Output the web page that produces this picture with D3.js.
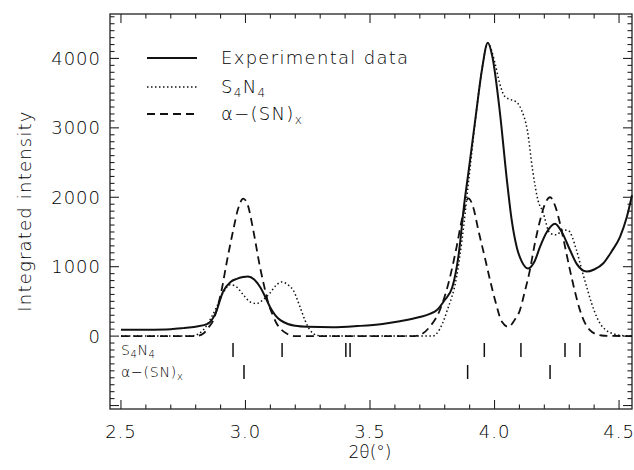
<!DOCTYPE html>
<html>
<head>
<meta charset="utf-8">
<script src="https://cdn.jsdelivr.net/npm/d3@7"></script>
<style>
  body { margin: 0; background: #fff; }
  text { font-family: "DejaVu Sans", sans-serif; font-weight: 200; fill: #000; }
</style>
</head>
<body>
<div id="chart"></div>
<script>
// 2theta positions and intensities
var expTheta = [2.50, 2.60, 2.70, 2.75, 2.80, 2.85, 2.88, 2.91, 2.94, 2.965, 2.99, 3.01, 3.035, 3.06, 3.08, 3.10, 3.12, 3.14, 3.17, 3.20, 3.25, 3.35, 3.45, 3.55, 3.62, 3.70, 3.74, 3.77, 3.80, 3.83, 3.855, 3.88, 3.895, 3.926, 3.95, 3.973, 3.99, 4.022, 4.049, 4.069, 4.09, 4.11, 4.135, 4.16, 4.183, 4.21, 4.243, 4.27, 4.303, 4.33, 4.37, 4.40, 4.437, 4.47, 4.504, 4.53, 4.552];
var expInt   = [90, 92, 100, 115, 135, 180, 330, 640, 780, 825, 850, 858, 815, 700, 560, 410, 300, 230, 175, 150, 135, 128, 145, 175, 215, 275, 320, 380, 520, 700, 1150, 1950, 2350, 3210, 3850, 4225, 4050, 3210, 2270, 1670, 1270, 1070, 975, 1070, 1290, 1500, 1620, 1500, 1240, 1040, 930, 960, 1050, 1220, 1430, 1700, 2030];

var s4n4Theta = [2.50, 2.78, 2.81, 2.83, 2.86, 2.884, 2.91, 2.938, 2.96, 2.99, 3.02, 3.045, 3.07, 3.098, 3.125, 3.145, 3.17, 3.192, 3.219, 3.24, 3.259, 3.29, 3.32, 3.75, 3.78, 3.81, 3.848, 3.87, 3.895, 3.926, 3.95, 3.973, 4.002, 4.02, 4.042, 4.07, 4.089, 4.109, 4.132, 4.153, 4.175, 4.193, 4.223, 4.249, 4.275, 4.296, 4.329, 4.35, 4.37, 4.39, 4.41, 4.43, 4.45, 4.48, 4.50, 4.552];
var s4n4Int   = [0, 0, 30, 86, 250, 420, 620, 740, 720, 600, 490, 470, 520, 620, 740, 780, 740, 660, 420, 220, 86, 10, 0, 0, 100, 370, 860, 1400, 2200, 3200, 3850, 4220, 3930, 3650, 3450, 3400, 3370, 3250, 2960, 2390, 1950, 1800, 1480, 1460, 1530, 1520, 1240, 960, 710, 470, 280, 150, 80, 30, 14, 0];

var snTheta = [2.50, 2.80, 2.831, 2.85, 2.871, 2.89, 2.904, 2.924, 2.951, 2.97, 2.991, 3.01, 3.031, 3.058, 3.075, 3.092, 3.11, 3.125, 3.145, 3.165, 3.20, 3.68, 3.70, 3.74, 3.781, 3.815, 3.848, 3.87, 3.895, 3.915, 3.935, 3.96, 3.982, 4.005, 4.029, 4.056, 4.08, 4.102, 4.12, 4.142, 4.16, 4.183, 4.20, 4.223, 4.243, 4.263, 4.283, 4.303, 4.323, 4.343, 4.363, 4.383, 4.41, 4.44, 4.552];
var snInt   = [0, 0, 38, 120, 230, 450, 660, 1050, 1530, 1830, 1980, 1880, 1530, 1000, 720, 470, 300, 182, 90, 38, 0, 0, 14, 134, 380, 760, 1290, 1700, 1985, 1850, 1526, 1150, 806, 480, 210, 134, 230, 374, 620, 950, 1300, 1670, 1880, 2000, 1880, 1623, 1290, 950, 640, 374, 190, 86, 25, 5, 0];

// reflection positions
var s4n4Refl = [2.95, 3.147, 3.403, 3.42, 3.959, 4.106, 4.283, 4.343];
var snRefl = [2.994, 3.892, 4.223];

var xMajor = [2.5, 3.0, 3.5, 4.0, 4.5];
var yMajor = [0, 1000, 2000, 3000, 4000];

(function () {
  var width = 634;
  var height = 470;

  var svg = d3.select("#chart")
    .append("svg")
    .attr("width", width)
    .attr("height", height);

  var x = d3.scaleLinear().domain([2.456, 4.552]).range([110, 632]);
  var y = d3.scaleLinear().domain([-1050, 4640]).range([409, 14]);

  var x0 = x.range()[0], x1 = x.range()[1];
  var y0 = y.range()[0], y1 = y.range()[1];

  // frame
  svg.append("rect")
    .attr("x", x0).attr("y", y1)
    .attr("width", x1 - x0).attr("height", y0 - y1)
    .attr("fill", "none").attr("stroke", "#222").attr("stroke-width", 1.3);

  var xMinor = d3.range(25, 46).map(function (d) { return d / 10; });
  var yMinor = d3.range(-10, 47).map(function (d) { return d * 100; });

  var ticks = svg.append("g").attr("stroke", "#222").attr("stroke-width", 1.1);

  xMinor.forEach(function (t) {
    var major = xMajor.indexOf(t) >= 0;
    var len = major ? 9 : 4.5;
    ticks.append("line").attr("x1", x(t)).attr("x2", x(t)).attr("y1", y0).attr("y2", y0 - len);
    ticks.append("line").attr("x1", x(t)).attr("x2", x(t)).attr("y1", y1).attr("y2", y1 + len);
  });
  yMinor.forEach(function (t) {
    var major = t % 1000 === 0;
    var len = major ? 9 : 4.5;
    ticks.append("line").attr("x1", x0).attr("x2", x0 + len).attr("y1", y(t)).attr("y2", y(t));
    ticks.append("line").attr("x1", x1).attr("x2", x1 - len).attr("y1", y(t)).attr("y2", y(t));
  });

  svg.selectAll(".xlab")
    .data(xMajor)
    .enter().append("text")
    .attr("class", "xlab")
    .attr("x", function (d) { return x(d); })
    .attr("y", 438)
    .attr("text-anchor", "middle")
    .style("font-size", "18px")
    .style("letter-spacing", "1px")
    .text(function (d) { return d.toFixed(1); });

  svg.selectAll(".ylab")
    .data(yMajor)
    .enter().append("text")
    .attr("class", "ylab")
    .attr("x", 101)
    .attr("y", function (d) { return y(d) + 6.5; })
    .attr("text-anchor", "end")
    .style("font-size", "18px")
    .style("letter-spacing", "1px")
    .text(function (d) { return d; });

  svg.append("text")
    .attr("x", 370).attr("y", 458)
    .attr("text-anchor", "middle")
    .style("font-size", "17px")
    .text("2\u03b8(\u00b0)");

  svg.append("text")
    .attr("transform", "translate(31,211) rotate(-90)")
    .attr("text-anchor", "middle")
    .style("font-size", "18px")
    .style("letter-spacing", "1.2px")
    .text("Integrated intensity");

  var line = d3.line()
    .x(function (d) { return x(d[0]); })
    .y(function (d) { return y(d[1]); })
    .curve(d3.curveMonotoneX);

  var series = [
    { theta: snTheta, vals: snInt, dash: "8,5", w: 1.8 },
    { theta: s4n4Theta, vals: s4n4Int, dash: "1.5,2.5", w: 1.5 },
    { theta: expTheta, vals: expInt, dash: null, w: 2 }
  ];

  svg.selectAll(".curve")
    .data(series)
    .enter().append("path")
    .attr("class", "curve")
    .attr("d", function (s) { return line(d3.zip(s.theta, s.vals)); })
    .attr("fill", "none")
    .attr("stroke", "#111")
    .attr("stroke-width", function (s) { return s.w; })
    .attr("stroke-dasharray", function (s) { return s.dash; });

  // reflection markers
  svg.selectAll(".refS")
    .data(s4n4Refl)
    .enter().append("line")
    .attr("x1", function (d) { return x(d); }).attr("x2", function (d) { return x(d); })
    .attr("y1", 343).attr("y2", 357)
    .attr("stroke", "#111").attr("stroke-width", 1.5);

  svg.selectAll(".refA")
    .data(snRefl)
    .enter().append("line")
    .attr("x1", function (d) { return x(d); }).attr("x2", function (d) { return x(d); })
    .attr("y1", 365).attr("y2", 379)
    .attr("stroke", "#111").attr("stroke-width", 1.5);

  function s4n4(t, size, sub) {
    t.append("tspan").text("S");
    t.append("tspan").attr("dy", sub).style("font-size", size).text("4");
    t.append("tspan").attr("dy", -sub).text("N");
    t.append("tspan").attr("dy", sub).style("font-size", size).text("4");
  }
  function sn(t, size, sub) {
    t.append("tspan").text("\u03b1\u2212(SN)");
    t.append("tspan").attr("dy", sub).style("font-size", size).text("x");
  }

  var t1 = svg.append("text").attr("x", 121).attr("y", 355)
    .style("font-size", "14px").style("letter-spacing", "0.6px");
  s4n4(t1, "10px", 3);
  var t2 = svg.append("text").attr("x", 121).attr("y", 377)
    .style("font-size", "14px").style("letter-spacing", "0.8px");
  sn(t2, "10px", 3);

  // legend
  var legend = [
    { label: "Experimental data", dash: null, w: 2, y: 58 },
    { label: "S4N4", dash: "1.5,2.5", w: 1.5, y: 87 },
    { label: "SN", dash: "8,5", w: 1.8, y: 114 }
  ];
  legend.forEach(function (d) {
    svg.append("line")
      .attr("x1", 147).attr("x2", 197).attr("y1", d.y).attr("y2", d.y)
      .attr("stroke", "#111").attr("stroke-width", d.w)
      .attr("stroke-dasharray", d.dash);
    var t = svg.append("text")
      .attr("x", 221).attr("y", d.y + 6)
      .style("font-size", "18px")
      .style("letter-spacing", "1.3px");
    if (d.label === "S4N4") s4n4(t, "12px", 4);
    else if (d.label === "SN") sn(t, "12px", 4);
    else t.text(d.label);
  });
})();
</script>
</body>
</html>
